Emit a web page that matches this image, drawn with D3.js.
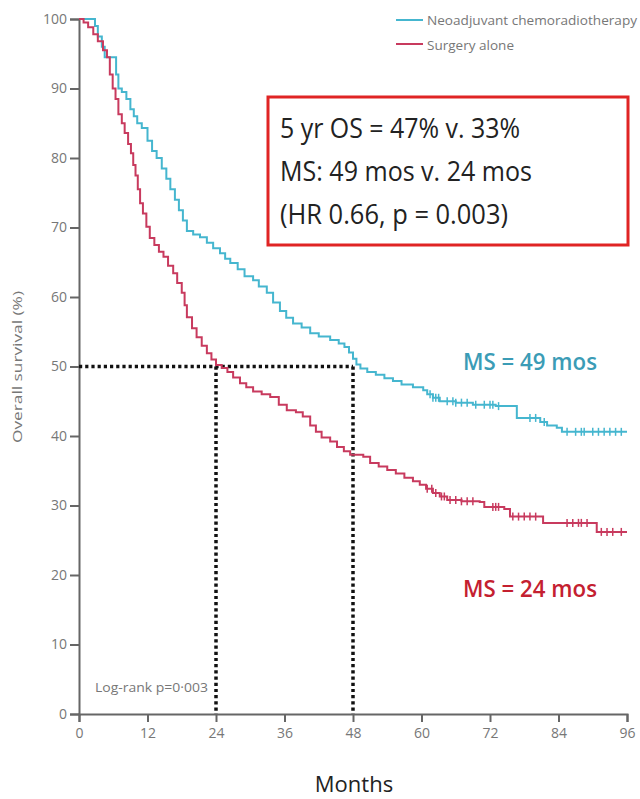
<!DOCTYPE html>
<html><head><meta charset="utf-8">
<script src="https://cdn.jsdelivr.net/npm/d3@7"></script>
<style>body{margin:0;background:#fff}svg{display:block}</style>
</head><body>
<svg id="c" width="640" height="799"></svg>
<script>
const xTicks = [0,12,24,36,48,60,72,84,96];
const yTicks = [0,10,20,30,40,50,60,70,80,90,100];
const seriesNames = ["Neoadjuvant chemoradiotherapy","Surgery alone"];
const neoSteps = [[0,100],[2.8,99],[3.3,97.5],[4,96],[4.5,94.5],[6.5,92],[6.9,90],[7.5,89.5],[8.3,88.5],[9,87],[9.6,86],[10.2,85],[11,84.3],[12,82.5],[12.8,81],[13.6,80],[14.5,78.5],[15.3,77],[16,75.5],[16.8,74],[17.5,72.5],[18.2,71],[18.9,69.5],[20,69],[21.2,68.6],[22.4,67.8],[23.5,67],[24.7,66.3],[25.6,65.5],[26.5,64.9],[27.8,64],[29,63],[30.5,62.4],[31.5,61.5],[32.9,60.6],[34,59.2],[35.2,58],[36.3,57],[37.5,56.2],[39,55.6],[40.5,54.8],[42,54.3],[44,53.8],[45.5,53.3],[46.5,52.8],[47.3,52],[48,51.1],[48.6,50.3],[49.3,49.7],[50.5,49.2],[52,48.8],[53.5,48.3],[55,47.9],[56.5,47.4],[58.5,47],[60.3,46.6],[61,46],[62,45.5],[63.2,45],[66,44.8],[69,44.5],[73,44.3],[76.7,42.6],[80.8,42],[82,41.5],[83.7,41.2],[84.6,40.6],[96,40.6]];
const surgSteps = [[0,100],[0.8,99.5],[1.6,98.8],[2.5,97.8],[3.3,96.8],[4.2,95.5],[4.9,94.5],[5.4,92],[5.9,90],[6.4,88.5],[6.9,86.3],[7.5,85],[8,83.6],[8.6,82],[9.1,80.7],[9.5,79],[9.9,77.5],[10.3,75.5],[10.7,73.5],[11.2,72],[11.8,70.1],[12.4,68.5],[13.2,67.5],[14,66.5],[14.8,65.8],[15.6,64.5],[16.5,63.4],[17.2,62],[18,60.6],[18.5,58.8],[18.9,57.1],[19.8,55.5],[20.6,54.2],[21.5,53],[22.4,51.9],[23.2,51],[24,50.2],[25,49.8],[26,49.2],[27,48.4],[28.2,47.6],[29.3,47],[30.5,46.4],[32,46],[33.5,45.6],[35,44.5],[36.4,43.7],[38,43.4],[39.2,42.8],[40.5,41.5],[41.5,40.6],[42.5,39.8],[44,39.2],[45.2,38.4],[46.4,37.8],[47.5,37.3],[49.8,37],[51,36.1],[52.5,35.6],[54,35.1],[55.5,34.6],[57,34],[58.5,33.5],[59.7,33],[60.8,32.4],[62,31.8],[63.2,31.3],[64.5,30.8],[67,30.6],[70.2,30.5],[71,29.8],[74.5,29.5],[75.5,28.4],[81.3,27.5],[90.7,26.2],[96,26.2]];
const neoCensor = [61.5,62,62.5,63,64.5,65.5,66,67,68,69.5,71,72,72.5,73.5,79,80,81.5,85.5,87,88,88.5,90,91,92,93,94,95];
const surgCensor = [61,61.8,62.5,63.5,64,65,66,67,68,69,72.5,73,73.5,76,77,78,79,80,85.5,86.5,87.5,88,89,91.5,92.5,93.5,95];
const medians = [24,48];
const boxLines = ["5 yr OS = 47% v. 33%","MS: 49 mos v. 24 mos","(HR 0.66, p = 0.003)"];
const msLabels = ["MS = 49 mos","MS = 24 mos"];

const svg = d3.select("#c");
const x = d3.scaleLinear().domain([0,96]).range([79,627]);
const y = d3.scaleLinear().domain([0,100]).range([714,19]);
const teal = "#45b6cf", red = "#c83a5e", grey = "#666";
const F = "'Open Sans', 'Liberation Sans', sans-serif";

// axes
const gy = svg.append("g").attr("transform",`translate(${x(0)},0)`)
  .call(d3.axisLeft(y).tickValues(yTicks).tickSize(9).tickPadding(3));
const gx = svg.append("g").attr("transform",`translate(0,${y(0)})`)
  .call(d3.axisBottom(x).tickValues(xTicks).tickSize(8).tickPadding(6));
[gx,gy].forEach(g=>{
  g.select(".domain").attr("stroke",grey).attr("stroke-width",2);
  g.selectAll(".tick line").attr("stroke",grey).attr("stroke-width",2);
  g.selectAll(".tick text").attr("fill","#777").attr("font-family","'Liberation Sans Narrow','Open Sans',sans-serif").attr("font-size",14);
});

// dotted median lines
const dot = {stroke:"#111","stroke-width":3.5,"stroke-dasharray":"3.2,3"};
function dl(x1,y1,x2,y2){const l=svg.append("line").attr("x1",x1).attr("y1",y1).attr("x2",x2).attr("y2",y2);Object.entries(dot).forEach(([k,v])=>l.attr(k,v));}
dl(x(0),y(50),x(medians[1]),y(50));
medians.forEach(m=>dl(x(m),y(50),x(m),y(0)));

// curves
const line = d3.line().x(d=>x(d[0])).y(d=>y(d[1])).curve(d3.curveStepAfter);
function stepVal(steps,t){let v=steps[0][1];for(const s of steps){if(s[0]<=t)v=s[1];else break;}return v;}
[[neoSteps,neoCensor,teal],[surgSteps,surgCensor,red]].forEach(([st,cs,col])=>{
  svg.append("path").datum(st).attr("d",line).attr("fill","none").attr("stroke",col).attr("stroke-width",2);
  svg.append("g").selectAll("line").data(cs).join("line")
    .attr("x1",d=>x(d)).attr("x2",d=>x(d))
    .attr("y1",d=>y(stepVal(st,d))-4).attr("y2",d=>y(stepVal(st,d))+4)
    .attr("stroke",col).attr("stroke-width",1.5);
});

// legend
[[teal,20,25],[red,44,50]].forEach(([c,ly,ty],i)=>{
  svg.append("line").attr("x1",396).attr("x2",423).attr("y1",ly).attr("y2",ly).attr("stroke",c).attr("stroke-width",2);
  svg.append("text").attr("x",427).attr("y",ty).text(seriesNames[i])
    .attr("font-family",F).attr("font-size",13.5).attr("fill","#777")
    .attr("textLength",i==0?210:87).attr("lengthAdjust","spacingAndGlyphs");
});

// red box
svg.append("rect").attr("x",268).attr("y",97).attr("width",360).attr("height",148)
  .attr("fill","#fff").attr("stroke","#e02424").attr("stroke-width",3);
const bw=[240,252,228];
boxLines.forEach((t,i)=>{
  svg.append("text").attr("x",280).attr("y",138+i*43).text(t)
    .attr("font-family",F).attr("font-size",27).attr("fill","#222")
    .attr("textLength",bw[i]).attr("lengthAdjust","spacingAndGlyphs");
});

// MS labels
svg.append("text").attr("x",463).attr("y",370).text(msLabels[0]).attr("font-family",F).attr("font-size",23)
  .attr("font-weight",600).attr("fill","#3b9cb6").attr("textLength",134).attr("lengthAdjust","spacingAndGlyphs");
svg.append("text").attr("x",463).attr("y",597).text(msLabels[1]).attr("font-family",F).attr("font-size",23)
  .attr("font-weight",600).attr("fill","#c42030").attr("textLength",134).attr("lengthAdjust","spacingAndGlyphs");

// log-rank
svg.append("text").attr("x",95).attr("y",692).text("Log-rank p=0·003").attr("font-family",F).attr("font-size",13)
  .attr("fill","#777").attr("textLength",113).attr("lengthAdjust","spacingAndGlyphs");

// axis titles
svg.append("text").attr("x",354).attr("y",792).attr("text-anchor","middle").text("Months")
  .attr("font-family",F).attr("font-size",22).attr("fill","#222");
svg.append("text").attr("transform","translate(22,367) rotate(-90)").attr("text-anchor","middle")
  .text("Overall survival (%)").attr("font-family",F).attr("font-size",12).attr("fill","#777")
  .attr("textLength",152).attr("lengthAdjust","spacingAndGlyphs");
</script>
</body></html>
